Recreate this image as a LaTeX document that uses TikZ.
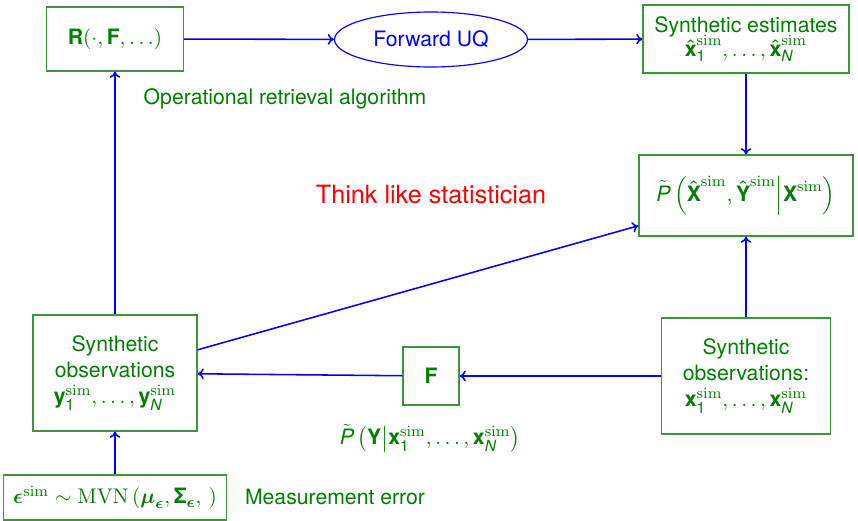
\documentclass[tikz,border=0pt]{standalone}
\usepackage{amsmath}
\usepackage[no-math]{fontspec}
\setmainfont{TeX Gyre Heros}
\usetikzlibrary{shapes.geometric,arrows.meta}

% sans-serif bold / italic letters inside math
\newcommand{\bsf}[1]{\text{\bfseries #1}}
\newcommand{\isf}[1]{\text{\itshape #1}}
\newcommand{\bhat}[1]{\boldsymbol{\hat{\bsf{#1}}}}
\newcommand{\simup}{\mathrm{sim}}

% drawing unit
\newdimen\pxu \pxu=0.5165pt

\definecolor{dgreen}{RGB}{0,128,0}
\definecolor{bgreen}{RGB}{60,150,60}

\tikzset{
  txt/.style={font=\fontsize{10.95}{13.4}\selectfont, text=dgreen, align=center},
  gbox/.style={txt, draw=bgreen, line width=0.6pt, inner sep=0pt},
  arr/.style={draw=blue, line width=0.8pt, -{To[length=3.2pt,width=5.5pt]}},
}

\begin{document}
\begin{tikzpicture}[x=\pxu, y=-\pxu]
\useasboundingbox (0,0) rectangle (858,521);

% boxes
\node[gbox, minimum width=137\pxu, minimum height=64\pxu] (R) at (115,39)
  {$\bsf{R}(\cdot,\bsf{F},\ldots)$};
\node[ellipse, draw=blue, line width=0.6pt, text=blue, inner sep=0pt,
      minimum width=193\pxu, minimum height=55\pxu,
      font=\fontsize{10.95}{13.4}\selectfont] (uq) at (431,39.5) {Forward UQ};
\node[gbox, minimum width=206\pxu, minimum height=68\pxu] (est) at (746,39)
  {Synthetic estimates\\[-1pt]
   $\bhat{x}_{\text{1}}^{\simup},\ldots,\bhat{x}_{\isf{N}}^{\simup}$};
\node[gbox, minimum width=214\pxu, minimum height=81\pxu] (pbox) at (746,195.5)
  {$\tilde{\isf{P}}\left(\bhat{X}^{\simup},\bhat{Y}^{\simup}\middle|\bsf{X}^{\simup}\right)$};
\node[gbox, minimum width=164\pxu, minimum height=116\pxu] (lobs) at (115,373)
  {Synthetic\\observations\\
   $\bsf{y}_{\text{1}}^{\simup},\ldots,\bsf{y}_{\isf{N}}^{\simup}$};
\node[gbox, minimum width=56\pxu, minimum height=58\pxu] (F) at (431,376)
  {$\bsf{F}$};
\node[gbox, minimum width=169\pxu, minimum height=116\pxu] (robs) at (746,376)
  {Synthetic\\observations:\\
   $\bsf{x}_{\text{1}}^{\simup},\ldots,\bsf{x}_{\isf{N}}^{\simup}$};
\node[gbox, minimum width=223\pxu, minimum height=45\pxu] (eps) at (115,497.5)
  {$\boldsymbol{\epsilon}^{\simup}\sim\mathrm{MVN}\left(\boldsymbol{\mu}_{\boldsymbol{\epsilon}},\bsf{Σ}_{\boldsymbol{\epsilon}},\,\right)$};

% free labels
\node[txt] (ora) at (285,99) {Operational retrieval algorithm};
\node[txt, text=red, font=\fontsize{13}{15.6}\selectfont] (think) at (431,195)
  {Think like statistician};
\node[txt] (meas) at (335,497) {Measurement error};
\node[txt] (plab) at (430,438)
  {$\tilde{\isf{P}}\left(\bsf{Y}\middle|\bsf{x}_{\text{1}}^{\simup},\ldots,\bsf{x}_{\isf{N}}^{\simup}\right)$};

% connectors
\draw[arr] (R) -- (uq);
\draw[arr] (uq) -- (est);
\draw[arr] (est) -- (pbox);
\draw[arr] (robs) -- (pbox);
\draw[arr] (robs) -- (F);
\draw[arr] (F) -- (lobs);
\draw[arr] (lobs) -- (pbox);
\draw[arr] (lobs) -- (R);
\draw[arr] (eps) -- (lobs);
\end{tikzpicture}
\end{document}
